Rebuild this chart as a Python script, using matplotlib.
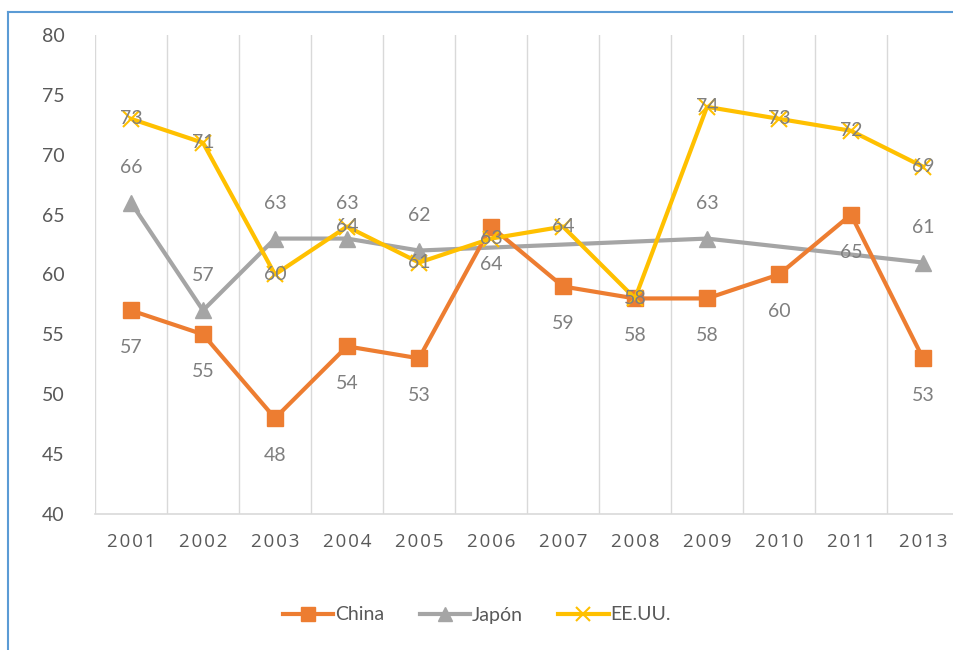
import numpy as np
import matplotlib
matplotlib.use("Agg")
import matplotlib.pyplot as plt
from matplotlib.lines import Line2D

plt.rcParams['font.family'] = ['Lato', 'DejaVu Sans']

years = ['2001', '2002', '2003', '2004', '2005', '2006', '2007', '2008', '2009', '2010', '2011', '2013']
china = [57, 55, 48, 54, 53, 64, 59, 58, 58, 60, 65, 53]
japon = [66, 57, 63, 63, 62, None, None, None, 63, None, None, 61]
eeuu = [73, 71, 60, 64, 61, 63, 64, 58, 74, 73, 72, 69]

C_CHINA = '#ED7D31'
C_JAPON = '#A5A5A5'
C_EEUU = '#FFC000'
LBL = '#7F7F7F'
TXT = '#595959'

fig = plt.figure(figsize=(9.54, 6.5), dpi=100)
ax = fig.add_axes([95/954, 1-514/650, (959-95)/954, (514-35)/650])
ax.set_xlim(-0.5, len(years)-0.5)
ax.set_ylim(40, 80)
ax.set_yticks(range(40, 81, 5))
x = np.arange(len(years))

# vertical gridlines between categories
for b in np.arange(-0.5, len(years)-0.5+0.01, 1.0):
    ax.axvline(b, color='#D9D9D9', lw=1.0, zorder=0)

for s in ['top', 'right', 'left']:
    ax.spines[s].set_visible(False)
ax.spines['bottom'].set_color('#D9D9D9')
ax.spines['bottom'].set_linewidth(1.2)
ax.tick_params(length=0, colors=TXT)
ax.tick_params(axis='y', pad=22, labelsize=14)
ax.tick_params(axis='x', pad=14, labelsize=13.5)
ax.set_xticks(x)
ax.set_xticklabels(['\u200a'.join(y) for y in years])
for t in ax.get_xticklabels():
    t.set_fontfamily(['Open Sans', 'DejaVu Sans'])

def valid(vals):
    xs = [i for i, v in enumerate(vals) if v is not None]
    ys = [v for v in vals if v is not None]
    return xs, ys

xs, ys = valid(china)
ax.plot(xs, ys, color=C_CHINA, lw=3, marker='s', ms=11, zorder=3, solid_joinstyle='round')
xs, ys = valid(japon)
ax.plot(xs, ys, color=C_JAPON, lw=3, marker='^', ms=11, zorder=2, solid_joinstyle='round')
xs, ys = valid(eeuu)
ax.plot(xs, ys, color=C_EEUU, lw=3, marker='x', ms=11, mew=1.5, zorder=4, solid_joinstyle='round')

for i, v in enumerate(china):
    ax.annotate(str(v), (i, v), xytext=(0, -27), textcoords='offset points',
                ha='center', va='center', fontsize=14, color=LBL, zorder=6)
for i, v in enumerate(japon):
    if v is not None:
        ax.annotate(str(v), (i, v), xytext=(0, 25), textcoords='offset points',
                    ha='center', va='center', fontsize=14, color=LBL, zorder=6)
for i, v in enumerate(eeuu):
    ax.annotate(str(v), (i, v), xytext=(0, 0), textcoords='offset points',
                ha='center', va='center', fontsize=14, color=LBL, zorder=6)

handles = [
    Line2D([], [], color=C_CHINA, lw=3, marker='s', ms=10),
    Line2D([], [], color=C_JAPON, lw=3, marker='^', ms=10),
    Line2D([], [], color=C_EEUU, lw=3, marker='x', ms=10, mew=1.5),
]
fig.legend(handles, ['China', 'Japón', 'EE.UU.'], loc='center', bbox_to_anchor=(0.5, 1-615/650),
           ncol=3, frameon=False, fontsize=14, labelcolor=TXT, handlelength=2.6,
           handletextpad=0.1, columnspacing=1.8)

# chart frame (blue border, left and top)
fig.add_artist(Line2D([8/954, 8/954], [0, 1-12/650], color='#5B9BD5', lw=1.5, transform=fig.transFigure))
fig.add_artist(Line2D([8/954, 1], [1-12/650, 1-12/650], color='#5B9BD5', lw=1.5, transform=fig.transFigure))

fig.savefig('out.png', dpi=100)
